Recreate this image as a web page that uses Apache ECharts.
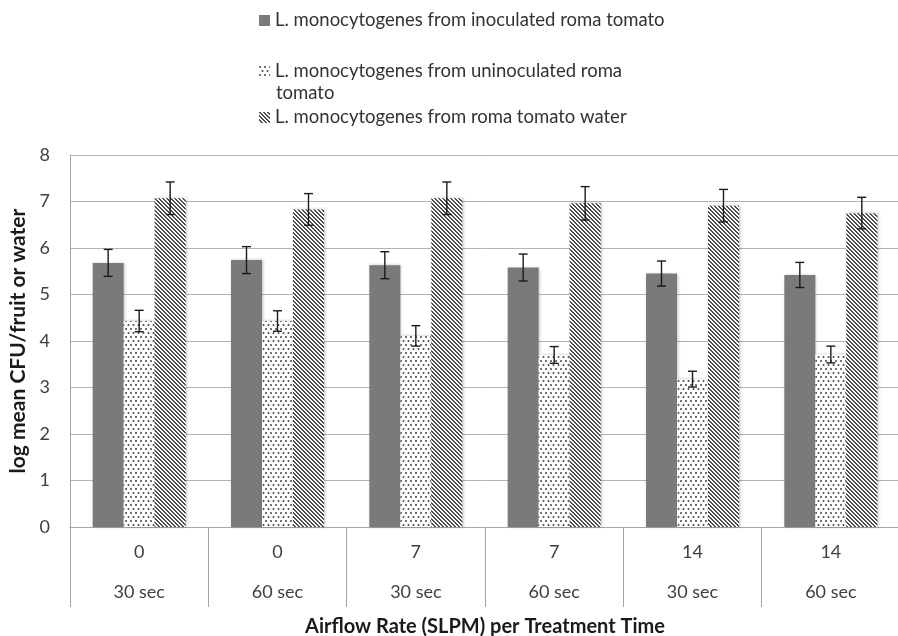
<!DOCTYPE html>
<html>
<head>
<meta charset="utf-8">
<script src="https://cdn.jsdelivr.net/npm/echarts@6/dist/echarts.min.js"></script>
<style>
html,body{margin:0;padding:0;background:#fff;}
#chart{width:898px;height:636px;}
</style>
</head>
<body>
<div id="chart"></div>
<script>
// ---- data ----
var airflowRates = ['0', '0', '7', '7', '14', '14'];
var treatmentTimes = ['30 sec', '60 sec', '30 sec', '60 sec', '30 sec', '60 sec'];
var seriesNames = [
  'L. monocytogenes from inoculated roma tomato',
  'L. monocytogenes from uninoculated roma tomato',
  'L. monocytogenes from roma tomato water'
];
var inoculated = [5.68, 5.74, 5.63, 5.58, 5.45, 5.42];
var inoculatedErr = [0.29, 0.29, 0.29, 0.29, 0.27, 0.27];
var uninoculated = [4.43, 4.43, 4.11, 3.70, 3.18, 3.71];
var uninoculatedErr = [0.23, 0.22, 0.22, 0.18, 0.17, 0.18];
var water = [7.07, 6.83, 7.07, 6.96, 6.91, 6.75];
var waterErr = [0.35, 0.34, 0.35, 0.36, 0.35, 0.34];
var yTicks = [0, 1, 2, 3, 4, 5, 6, 7, 8];

// ---- patterns ----
function makeDots() {
  var c = document.createElement('canvas');
  c.width = 10; c.height = 8;
  var ctx = c.getContext('2d');
  ctx.fillStyle = '#ffffff'; ctx.fillRect(0, 0, 10, 8);
  ctx.fillStyle = '#474747';
  var pts = [[1, 1], [6, 1], [3.5, 5], [8.5, 5]];
  pts.forEach(function (p) {
    ctx.beginPath(); ctx.arc(p[0], p[1], 1.0, 0, Math.PI * 2); ctx.fill();
  });
  return c;
}
function makeHatch() {
  var c = document.createElement('canvas');
  c.width = 4; c.height = 4;
  var ctx = c.getContext('2d');
  ctx.fillStyle = '#ffffff'; ctx.fillRect(0, 0, 4, 4);
  ctx.fillStyle = '#4d4d4d';
  for (var y = 0; y < 4; y++) for (var x = 0; x < 4; x++) {
    if (((x - y + 8) % 4) < 2) ctx.fillRect(x, y, 1, 1);
  }
  return c;
}
var solidColor = '#7a7a7a';
var dotColor = { image: makeDots(), repeat: 'repeat' };
var hatchColor = { image: makeHatch(), repeat: 'repeat' };

var FONT = 'Lato, "Open Sans", sans-serif';
var BAR_W = 31;

function errSeries(vals, errs, offsetIdx) {
  return {
    type: 'custom',
    silent: true,
    z: 5,
    data: vals.map(function (v, i) { return [i, v, errs[i]]; }),
    encode: { x: 0, y: 1 },
    renderItem: function (params, api) {
      var i = api.value(0), v = api.value(1), e = api.value(2);
      var top = api.coord([i, v + e]);
      var bot = api.coord([i, v - e]);
      var x = top[0] + offsetIdx * BAR_W;
      var cap = 4.5;
      var st = { stroke: '#1a1a1a', lineWidth: 1.4 };
      return {
        type: 'group',
        children: [
          { type: 'line', shape: { x1: x, y1: top[1], x2: x, y2: bot[1] }, style: st },
          { type: 'line', shape: { x1: x - cap, y1: top[1], x2: x + cap, y2: top[1] }, style: st },
          { type: 'line', shape: { x1: x - cap, y1: bot[1], x2: x + cap, y2: bot[1] }, style: st }
        ]
      };
    }
  };
}

var barShadow = { shadowBlur: 3, shadowColor: 'rgba(0,0,0,0.25)', shadowOffsetX: 1, shadowOffsetY: 0 };

var chart = echarts.init(document.getElementById('chart'));
var legendText = { fontFamily: FONT, fontSize: 18.5, color: '#333333' };
function lg(name, top) {
  return { data: [name], left: 254, top: top, orient: 'vertical', icon: 'rect', itemWidth: 11, itemHeight: 11, itemGap: 0, textStyle: legendText, selectedMode: false };
}
var lg2 = lg(seriesNames[1], 57);
lg2.formatter = function () { return 'L. monocytogenes from uninoculated roma'; };
chart.setOption({
  backgroundColor: '#ffffff',
  animation: false,
  legend: [lg(seriesNames[0], 6), lg2, lg(seriesNames[2], 103)],
  graphic: [
    { type: 'text', left: 276, top: 84, style: { text: 'tomato', font: '18.5px ' + FONT, fill: '#333333' } }
  ],
  grid: { left: 70, top: 155, width: 830, height: 372, containLabel: false, outerBoundsMode: 'none' },
  xAxis: {
    type: 'category',
    data: airflowRates.map(function (r, i) { return r + '\n' + treatmentTimes[i]; }),
    axisLine: { show: true, lineStyle: { color: '#a6a6a6', width: 1 } },
    axisTick: { show: true, interval: 0, length: 80, lineStyle: { color: '#a6a6a6', width: 1 } },
    axisLabel: { interval: 0, margin: 5, lineHeight: 40, fontFamily: FONT, fontSize: 18, color: '#404040' },
    name: 'Airflow Rate (SLPM) per Treatment Time',
    nameLocation: 'middle',
    nameGap: 83,
    nameTextStyle: { fontFamily: FONT, fontSize: 20, fontWeight: 'bold', color: '#1a1a1a' }
  },
  yAxis: {
    type: 'value',
    min: yTicks[0], max: yTicks[yTicks.length - 1], interval: 1,
    axisLine: { show: true, lineStyle: { color: '#a6a6a6', width: 1 } },
    axisTick: { show: false },
    axisLabel: { margin: 20, fontFamily: FONT, fontSize: 18, color: '#404040' },
    splitLine: { show: true, lineStyle: { color: '#b3b3b3', width: 1 } },
    name: 'log mean CFU/fruit or water',
    nameLocation: 'middle',
    nameGap: 40,
    nameTextStyle: { fontFamily: FONT, fontSize: 21, fontWeight: 'bold', color: '#1a1a1a' }
  },
  series: [
    { name: seriesNames[0], type: 'bar', data: inoculated, barWidth: BAR_W, barGap: '0%', itemStyle: Object.assign({ color: solidColor }, barShadow) },
    { name: seriesNames[1], type: 'bar', data: uninoculated, barWidth: BAR_W, barGap: '0%', itemStyle: Object.assign({ color: dotColor }, barShadow) },
    { name: seriesNames[2], type: 'bar', data: water, barWidth: BAR_W, barGap: '0%', itemStyle: Object.assign({ color: hatchColor }, barShadow) },
    errSeries(inoculated, inoculatedErr, -1),
    errSeries(uninoculated, uninoculatedErr, 0),
    errSeries(water, waterErr, 1)
  ]
});
</script>
</body>
</html>
